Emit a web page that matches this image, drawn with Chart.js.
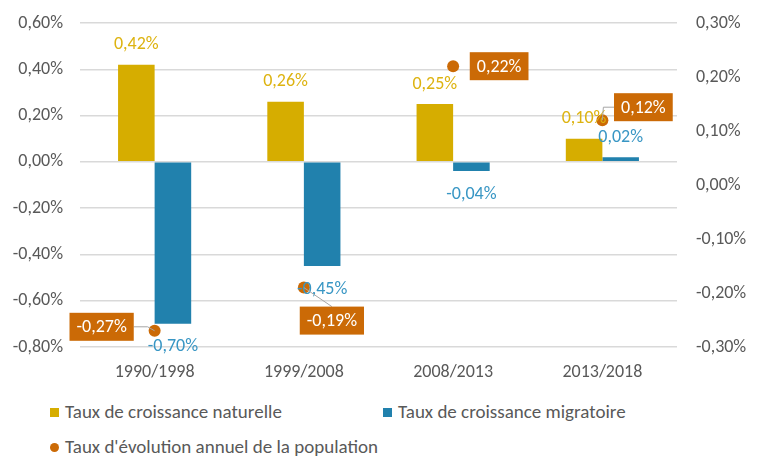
<!DOCTYPE html>
<html>
<head>
<meta charset="utf-8">
<script src="https://cdn.jsdelivr.net/npm/chart.js@4/dist/chart.umd.min.js"></script>
<style>
  body { margin: 0; background: #fff; font-family: Calibri, Carlito, "Liberation Sans", sans-serif; }
  #wrap { position: relative; width: 760px; height: 462px; }
  #legend { position: absolute; left: 0; top: 402px; width: 760px; font-size: 19px; color: #595959; }
  .item { position: absolute; white-space: nowrap; line-height: 20px; }
  .sw { display: inline-block; width: 9px; height: 9px; margin-right: 6px; vertical-align: 1px; }
</style>
</head>
<body>
<div id="wrap">
  <canvas id="chart" width="760" height="385"></canvas>
  <div id="legend"></div>
</div>
<script>
// Données
const periodes = ['1990/1998', '1999/2008', '2008/2013', '2013/2018'];
const croissanceNaturelle = [0.42, 0.26, 0.25, 0.10];
const croissanceMigratoire = [-0.70, -0.45, -0.04, 0.02];
const evolutionAnnuelle = [-0.27, -0.19, 0.22, 0.12];
const ticksGauche = [-0.8, -0.6, -0.4, -0.2, 0, 0.2, 0.4, 0.6];
const ticksDroite = [-0.3, -0.2, -0.1, 0, 0.1, 0.2, 0.3];

const JAUNE = '#D6AD00';
const BLEU = '#2181AD';
const ORANGE = '#CB6A06';
const GRIS = '#595959';
const FONT = 'Calibri, Carlito, "Liberation Sans", sans-serif';
const TAILLE = 18;

function pct(v) {
    if (Math.abs(v) < 1e-9) v = 0;
    return v.toFixed(2).replace('.', ',') + '%';
}

// placement des étiquettes orange (décalage par rapport au point)
const boites = [
    { dx: -53, dy: -4, trait: 'cote' },
    { dx: 28, dy: 33, trait: 'haut' },
    { dx: 46, dy: 0, trait: null },
    { dx: 41, dy: -13, trait: 'cote' }
];

const etiquettes = {
    id: 'etiquettes',
    afterDatasetsDraw(chart) {
        const ctx = chart.ctx;
        ctx.save();
        ctx.font = TAILLE + 'px ' + FONT;
        ctx.textAlign = 'center';
        ctx.textBaseline = 'middle';
        // barres
        [[0, '#DDB310'], [1, '#3896C4']].forEach(([di, col]) => {
            const meta = chart.getDatasetMeta(di);
            meta.data.forEach((el, i) => {
                const v = chart.data.datasets[di].data[i];
                const y = v >= 0 ? el.y - 20 : el.y + 23;
                ctx.fillStyle = col;
                ctx.fillText(pct(v), el.x, y);
            });
        });
        // points
        const meta = chart.getDatasetMeta(2);
        meta.data.forEach((el, i) => {
            const v = chart.data.datasets[2].data[i];
            const b = boites[i];
            const txt = pct(v);
            const w = ctx.measureText(txt).width + 14;
            const h = 28;
            const cx = el.x + b.dx, cy = el.y + b.dy;
            if (b.trait) {
                ctx.strokeStyle = '#A6A6A6';
                ctx.lineWidth = 1;
                ctx.beginPath();
                if (b.trait === 'haut') {
                    ctx.moveTo(cx, cy - h / 2);
                    ctx.lineTo(el.x, el.y);
                } else {
                    const sx = b.dx < 0 ? cx + w / 2 : cx - w / 2;
                    const ex = b.dx < 0 ? el.x - 7 : el.x + 1;
                    ctx.moveTo(sx, cy);
                    ctx.lineTo(ex, cy);
                    ctx.lineTo(el.x, el.y);
                }
                ctx.stroke();
            }
            ctx.fillStyle = ORANGE;
            ctx.fillRect(cx - w / 2, cy - h / 2, w, h);
            ctx.fillStyle = '#fff';
            ctx.fillText(txt, cx, cy + 1);
        });
        ctx.restore();
    }
};

function sansMarge(s, largeur) {
    s.width = largeur;
    s.paddingTop = 0;
    s.paddingBottom = 0;
}

const chart = new Chart(document.getElementById('chart'), {
    type: 'bar',
    data: {
        labels: periodes,
        datasets: [
            { label: 'Taux de croissance naturelle', data: croissanceNaturelle, backgroundColor: JAUNE, yAxisID: 'y', categoryPercentage: 0.49, barPercentage: 1, order: 2 },
            { label: 'Taux de croissance migratoire', data: croissanceMigratoire, backgroundColor: BLEU, yAxisID: 'y', categoryPercentage: 0.49, barPercentage: 1, order: 2 },
            { type: 'line', label: "Taux d'évolution annuel de la population", data: evolutionAnnuelle, yAxisID: 'y1', showLine: false, pointRadius: 6, pointHoverRadius: 6, pointBackgroundColor: ORANGE, pointBorderWidth: 0, backgroundColor: ORANGE, borderColor: ORANGE, order: 1 }
        ]
    },
    options: {
        responsive: false,
        animation: false,
        layout: { padding: { top: 23, left: 0, right: 0, bottom: 0 } },
        plugins: { legend: { display: false }, tooltip: { enabled: false } },
        scales: {
            x: {
                grid: { display: false, drawTicks: false },
                border: { display: false },
                ticks: { color: GRIS, font: { size: TAILLE, family: FONT }, padding: 15 },
                afterFit(s) { s.height = 38; }
            },
            y: {
                position: 'left',
                min: -0.8, max: 0.6,
                afterBuildTicks(s) { s.ticks = ticksGauche.map(v => ({ value: v })); },
                grid: { color: '#D9D9D9', lineWidth: 1.5, drawTicks: false },
                border: { display: false },
                ticks: { color: GRIS, font: { size: TAILLE, family: FONT }, padding: 17, callback: v => pct(v) },
                afterFit(s) { sansMarge(s, 80); }
            },
            y1: {
                position: 'right',
                min: -0.3, max: 0.3,
                afterBuildTicks(s) { s.ticks = ticksDroite.map(v => ({ value: v })); },
                grid: { display: false, drawTicks: false },
                border: { display: false },
                ticks: { color: GRIS, font: { size: TAILLE, family: FONT }, padding: 19, callback: v => pct(v) },
                afterFit(s) { sansMarge(s, 83); }
            }
        }
    },
    plugins: [etiquettes]
});

// légende
const pos = [[50, 0], [383, 0], [50, 35]];
const leg = document.getElementById('legend');
chart.data.datasets.forEach((ds, i) => {
    const d = document.createElement('div');
    d.className = 'item';
    d.style.left = pos[i][0] + 'px';
    d.style.top = pos[i][1] + 'px';
    const sw = document.createElement('span');
    sw.className = 'sw';
    sw.style.background = ds.type === 'line' ? ds.pointBackgroundColor : ds.backgroundColor;
    if (ds.type === 'line') sw.style.borderRadius = '50%';
    d.appendChild(sw);
    d.appendChild(document.createTextNode(ds.label));
    leg.appendChild(d);
});
</script>
</body>
</html>
